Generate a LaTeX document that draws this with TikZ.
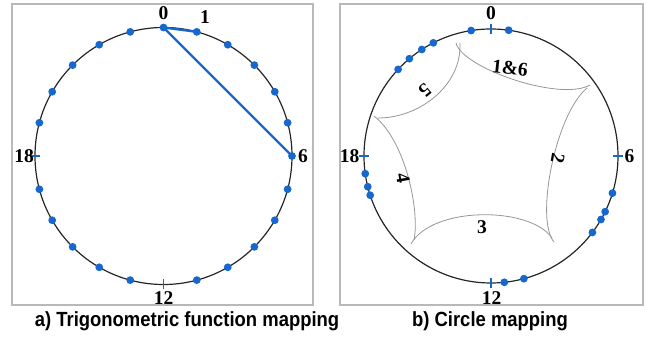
\documentclass[tikz,border=0pt]{standalone}
\usepackage{fontspec}
\setmainfont{Liberation Serif}
\setsansfont{Liberation Sans}
\definecolor{dotblue}{RGB}{22,104,206}
\definecolor{framegray}{RGB}{185,185,185}
\definecolor{arcgray}{RGB}{150,150,150}
\tikzset{
  ring/.style={line width=1.2pt, black!85},
  chord/.style={line width=2.3pt, dotblue},
  tick/.style={line width=1.7pt, dotblue},
  bead/.style={fill=dotblue},
  panel/.style={line width=1.2pt, framegray},
  edge/.style={line width=0.8pt, arcgray},
  numlabel/.style={font=\fontsize{19.5}{19.5}\selectfont\bfseries, inner sep=0pt},
  caption/.style={font=\sffamily\bfseries\fontsize{20.5}{20.5}\selectfont, inner sep=0pt, xscale=0.9}
}
\begin{document}
\begin{tikzpicture}[x=1pt, y=1pt]
    \useasboundingbox (0,0) rectangle (646,337);

    % ===== panel frames =====
    \draw[panel] (12,32) rectangle (313,333);
    \draw[panel] (340,32) rectangle (643,333);

    % ===== a) trigonometric function mapping =====
    \begin{scope}[shift={(163.5,181)}]
        \draw[ring] (0,0) circle (128.5);
        % 24 points, 0 at the top, clockwise
        \foreach \k in {0,...,23} {
            \coordinate (a\k) at ({90-15*\k}:128.5);
        }
        \draw[chord] (a1) -- (a0) -- (a6);
        \foreach \k in {0,1,2,3,4,5,6,7,8,9,10,11,13,14,15,16,17,19,20,21,22,23} {
            \fill[bead] (a\k) circle (3.9);
        }
        \draw[tick] (-90:123.5) -- (-90:133.5);
        \draw[tick] (180:123.5) -- (180:133.5);
        % labels
        \node[numlabel] (la0) at (0,143) {0};
        \node[numlabel] (la1) at (41.5,139) {1};
        \node[numlabel] (la6) at (139.5,0) {6};
        \node[numlabel] (la12) at (0,-142) {12};
        \node[numlabel] (la18) at (-139.5,0) {18};
    \end{scope}

    % ===== b) circle mapping =====
    \begin{scope}[shift={(491,181)}]
        \draw[ring] (0,0) circle (127);
        \foreach \a in {99,82,117,123,130,137,188,194,198,-17,-26,-30,-37,-84,-75} {
            \fill[bead] (\a:127) circle (3.9);
        }
        \foreach \a in {90,0,-90,180} {
            \draw[tick] (\a:122) -- (\a:132);
        }
        \node[numlabel] (lb0) at (0,143) {0};
        \node[numlabel] (lb6) at (138.5,0) {6};
        \node[numlabel] (lb12) at (0.7,-142) {12};
        \node[numlabel] (lb18) at (-141.5,0) {18};

        % inner curved pentagon (arcs overshoot a little at the cusps)
        \coordinate (v1) at (-33,109);
        \coordinate (v2) at (96,68);
        \coordinate (v3) at (61,-82);
        \coordinate (v4) at (-77,-84);
        \coordinate (v5) at (-113,38);
        \draw[edge] (-35,113) .. controls (-29,88) and (69,54) .. (99,71);
        \draw[edge] (v2) .. controls (64,41) and (44,-64) .. (63,-86);
        \draw[edge] (-80,-88) .. controls (-59,-50) and (39,-50) .. (v3);
        \draw[edge] (-117,40) .. controls (-86,16) and (-71,-54) .. (v4);
        \draw[edge] (v5) .. controls (-71,38) and (-29,71) .. (-31,113);
        \node[numlabel, rotate=-6] (e16) at (19,88) {1\&6};
        \node[numlabel, rotate=-100] (e2) at (67,-2) {2};
        \node[numlabel] (e3) at (-9,-71) {3};
        \node[numlabel, rotate=-80] (e4) at (-88,-22) {4};
        \node[numlabel, rotate=-140] (e5) at (-66,66) {5};
    \end{scope}

    % ===== captions =====
    \node[caption] (capa) at (187,16) {a) Trigonometric function mapping};
    \node[caption] (capb) at (490,16) {b) Circle mapping};
\end{tikzpicture}
\end{document}
